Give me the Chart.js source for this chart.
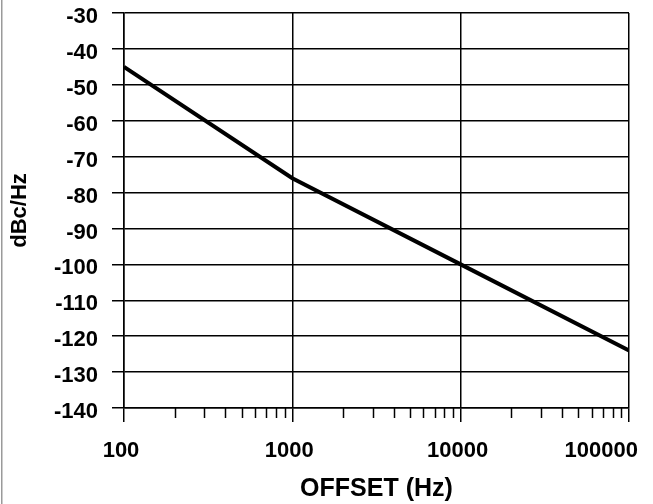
<!DOCTYPE html>
<html>
<head>
<meta charset="utf-8">
<script src="https://cdn.jsdelivr.net/npm/chart.js@4.4.1/dist/chart.umd.min.js"></script>
<style>
  html, body { margin: 0; padding: 0; background: #fff; }
  #wrap { width: 653px; height: 504px; position: relative; }
</style>
</head>
<body>
<div id="wrap"><canvas id="c" width="653" height="504"></canvas></div>
<script>
// Data
const offsetsHz = [100, 1000, 10000, 100000];
const phaseNoise = [-45, -76, -100, -124];
const xTickValues = [100, 1000, 10000, 100000];
const xTickLabels = ['100', '1000', '10000', '100000'];
const minorMultipliers = [2, 3, 4, 5, 6, 7, 8, 9];
const yMin = -140, yMax = -30, yStep = 10;
const xTitle = 'OFFSET (Hz)';
const yTitle = 'dBc/Hz';

const FONT = "'Liberation Sans', Arial, Helvetica, sans-serif";
const WEIGHT = 'bold';

const decorPlugin = {
  id: 'decor',
  beforeDraw(chart) {
    const ctx = chart.ctx;
    ctx.save();
    ctx.fillStyle = '#9a9a9a';
    ctx.fillRect(1, 0, 1.5, chart.height);
    ctx.restore();
  },
  afterDraw(chart) {
    const ctx = chart.ctx;
    const xs = chart.scales.x;
    const area = chart.chartArea;
    ctx.save();
    // minor ticks below the x axis
    ctx.strokeStyle = '#000';
    ctx.lineWidth = 1.5;
    for (let d = 0; d < xTickValues.length - 1; d++) {
      for (const m of minorMultipliers) {
        const px = Math.round(xs.getPixelForValue(xTickValues[d] * m)) + 0.5;
        ctx.beginPath();
        ctx.moveTo(px, area.bottom);
        ctx.lineTo(px, area.bottom + 10);
        ctx.stroke();
      }
    }
    // x tick labels, kept inside the canvas
    ctx.fillStyle = '#000';
    ctx.font = WEIGHT + ' 22px ' + FONT;
    ctx.textBaseline = 'middle';
    ctx.textAlign = 'center';
    xTickValues.forEach((v, i) => {
      const w = ctx.measureText(xTickLabels[i]).width;
      let cx = xs.getPixelForValue(v) - 3;
      const maxRight = chart.width - 15;
      if (cx + w / 2 > maxRight) cx = maxRight - w / 2;
      ctx.fillText(xTickLabels[i], cx, area.bottom + 43);
    });
    ctx.restore();
  }
};

new Chart(document.getElementById('c'), {
  type: 'line',
  data: {
    datasets: [{
      data: offsetsHz.map((x, i) => ({ x: x, y: phaseNoise[i] })),
      borderColor: '#000',
      borderWidth: 4,
      pointRadius: 0,
      tension: 0,
      fill: false
    }]
  },
  options: {
    responsive: false,
    animation: false,
    devicePixelRatio: 1,
    layout: { padding: { top: 13, right: 24, left: 0, bottom: 0 } },
    plugins: { legend: { display: false }, tooltip: { enabled: false } },
    scales: {
      x: {
        type: 'logarithmic',
        min: 100,
        max: 100000,
        afterBuildTicks(scale) { scale.ticks = xTickValues.map(v => ({ value: v })); },
        afterFit(scale) {
          scale.height = 96;
          scale.paddingLeft = 0; scale.paddingRight = 0;
        },
        grid: { color: '#000', lineWidth: 1.5, tickLength: 14, drawTicks: true },
        border: { color: '#000', width: 1.5 },
        ticks: { display: false },
        title: { display: true, text: xTitle, color: '#000', font: { family: FONT, size: 25, weight: WEIGHT }, padding: { top: 0, bottom: 0 } }
      },
      y: {
        min: yMin,
        max: yMax,
        afterFit(scale) {
          scale.width = 124;
          scale.paddingTop = 0; scale.paddingBottom = 0;
        },
        grid: { color: '#000', lineWidth: 1.5, tickLength: 12 },
        border: { color: '#000', width: 1.5 },
        ticks: {
          stepSize: yStep,
          color: '#000',
          padding: 14,
          labelOffset: 4,
          font: { family: FONT, size: 22, weight: WEIGHT }
        },
        title: { display: true, text: yTitle, color: '#000', font: { family: FONT, size: 22, weight: WEIGHT }, padding: { top: 7, bottom: 0 } }
      }
    }
  },
  plugins: [decorPlugin]
});
</script>
</body>
</html>
